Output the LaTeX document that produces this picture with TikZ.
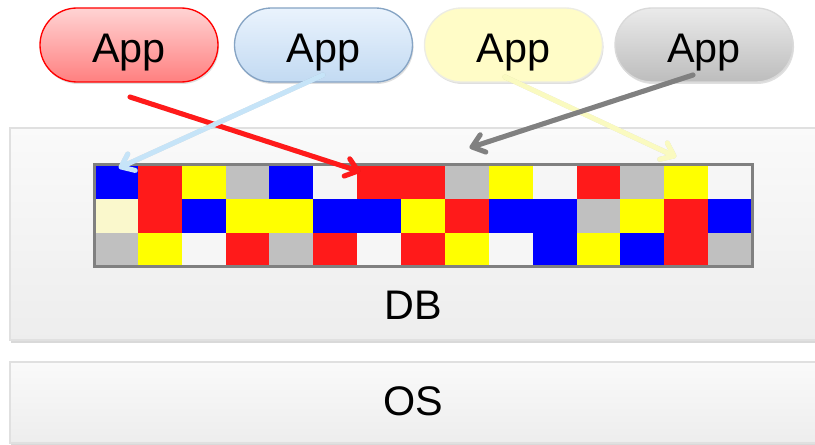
\documentclass[tikz,border=0pt]{standalone}
\usepackage{fontspec}
\setmainfont{Liberation Sans}
\usetikzlibrary{calc,shapes.misc,shadows}
\definecolor{cellB}{HTML}{0000FF}
\definecolor{cellR}{HTML}{FF1A1A}
\definecolor{cellY}{HTML}{FFFF00}
\definecolor{cellG}{HTML}{C0C0C0}
\definecolor{cellW}{HTML}{F6F6F6}
\definecolor{cellL}{HTML}{FAF8CC}
\definecolor{skyline}{HTML}{86A4C4}
\definecolor{skytop}{HTML}{EAF3FD}
\definecolor{skybot}{HTML}{C2DAF2}
\definecolor{skyarrow}{HTML}{C6E4F8}
\definecolor{creamarrow}{HTML}{FAFAC0}
\tikzset{
  app/.style = {rounded rectangle, line width=1pt, minimum width=133.5pt,
    minimum height=55.5pt, inner sep=0pt, text height=33.5pt, text depth=6.5pt,
    font=\fontsize{31}{37}\selectfont,
    drop shadow={opacity=0.25, shadow xshift=0.8pt, shadow yshift=-1.5pt}},
  layer/.style = {draw=black!12, line width=1.5pt, top color=black!2, bottom color=black!7,
    drop shadow={opacity=0.3, shadow xshift=0.5pt, shadow yshift=-2pt}},
  tag/.style = {anchor=base, font=\fontsize{31}{37}\selectfont},
  link/.style = {line width=3.75pt, line cap=round, line join=round},
  linkshadow/.style = {link, black, opacity=0.12, shift={(1.5,3)}},
}
% shaft plus an open head drawn by hand
\newcommand{\readpath}[2]{(#1) -- (#2) -- ($(#2)!11pt!38:(#1)$) (#2) -- ($(#2)!11pt!-38:(#1)$)}
\begin{document}
\begin{tikzpicture}[x=0.75pt,y=-0.75pt]
\clip (0,0) rectangle (815,445);
% the two layers
\draw[layer] (10,128) rectangle (840,340);
\draw[layer] (10,362) rectangle (840,443);
\node[tag] (db) at (413,320) {DB};
\node[tag] (os) at (413,416) {OS};
% data pages, three rows of fifteen
\foreach \r/\cells in {0/{B,R,Y,G,B,W,R,R,G,Y,W,R,G,Y,W},
                       1/{L,R,B,Y,Y,B,B,Y,R,B,B,G,Y,R,B},
                       2/{G,Y,W,R,G,R,W,R,Y,W,B,Y,B,R,G}}
  \foreach \c [count=\i from 0] in \cells
    \fill[cell\c] ({94+\i*43.87},{165+\r*34}) rectangle ++(43.87,34);
\draw[black!50, line width=2.25pt] (94,165) rectangle (752,267);
% applications
\node[app, draw=red, top color=red!17, bottom color=red!50] (app1) at (129,45) {App};
\node[app, draw=skyline, top color=skytop, bottom color=skybot] (app2) at (323.5,45) {App};
\node[app, draw=yellow!30!black!12, fill=yellow!22] (app3) at (513.5,45) {App};
\node[app, draw=black!15, top color=black!8, bottom color=black!26] (app4) at (704,45) {App};
% where each app reads from
\coordinate (t1) at (130,97);   \coordinate (h1) at (358,171);
\coordinate (t2) at (323,75);   \coordinate (h2) at (121,167);
\coordinate (t3) at (505,77);   \coordinate (h3) at (674,156);
\coordinate (t4) at (693,75);   \coordinate (h4) at (472,147);
\foreach \k in {1,...,4}
  \draw[linkshadow] \readpath{t\k}{h\k};
\foreach \k/\col in {1/cellR, 2/skyarrow, 3/creamarrow, 4/black!50}
  \draw[link, \col] \readpath{t\k}{h\k};
\end{tikzpicture}
\end{document}
